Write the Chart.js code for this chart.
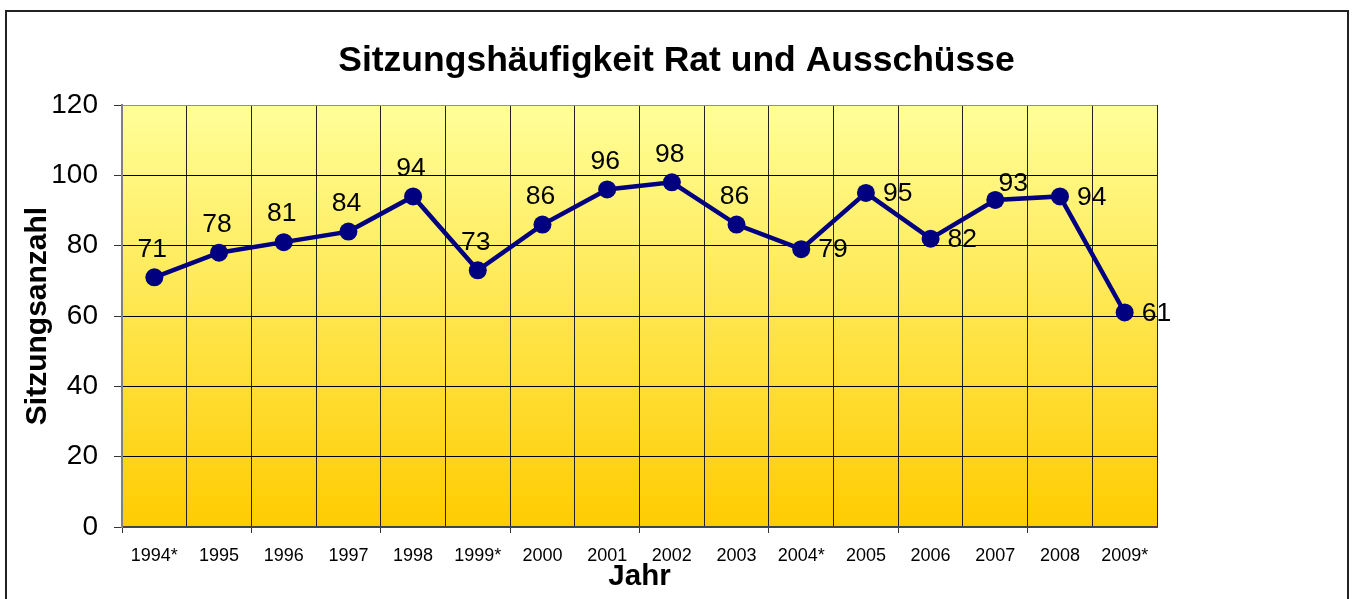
<!DOCTYPE html>
<html>
<head>
<meta charset="utf-8">
<script src="https://cdn.jsdelivr.net/npm/chart.js@4"></script>
<style>
  html, body { margin: 0; padding: 0; background: #fff; }
  #wrap { width: 1353px; height: 599px; }
</style>
</head>
<body>
<div id="wrap"><canvas id="c" width="1353" height="599"></canvas></div>
<script>
const categories = ['1994*','1995','1996','1997','1998','1999*','2000','2001','2002','2003','2004*','2005','2006','2007','2008','2009*'];
const sitzungen = [71,78,81,84,94,73,86,96,98,86,79,95,82,93,94,61];
const labelPlacement = ['top','top','top','top','top','top','top','top','top','top','right','right','right','topright','right','right'];
const yTicks = { min: 0, max: 120, step: 20 };
const chartTitle = 'Sitzungshäufigkeit Rat und Ausschüsse';

const FONT = "'Liberation Sans', Arial, Helvetica, sans-serif";
const NAVY = '#000080';

const frameAndBackground = {
  id: 'frameAndBackground',
  beforeDraw(chart) {
    const ctx = chart.ctx;
    const a = chart.chartArea;
    ctx.save();
    ctx.fillStyle = '#ffffff';
    ctx.fillRect(0, 0, chart.width, chart.height);
    ctx.strokeStyle = '#222';
    ctx.lineWidth = 2;
    ctx.strokeRect(6, 11, 1342, 620);
    const g = ctx.createLinearGradient(0, a.top, 0, a.bottom);
    g.addColorStop(0, '#FFFF99');
    g.addColorStop(1, '#FFCC00');
    ctx.fillStyle = g;
    ctx.fillRect(a.left, a.top, a.right - a.left, a.bottom - a.top);
    ctx.restore();
  },
  afterDraw(chart) {
    const ctx = chart.ctx;
    ctx.save();
    ctx.font = 'bold 35.5px ' + FONT;
    ctx.fillStyle = '#000';
    ctx.textAlign = 'center';
    ctx.textBaseline = 'middle';
    ctx.fillText(chartTitle, chart.width / 2, 61);
    ctx.restore();
  }
};

const valueLabels = {
  id: 'valueLabels',
  afterDatasetsDraw(chart) {
    const ctx = chart.ctx;
    const meta = chart.getDatasetMeta(0);
    ctx.save();
    ctx.font = '26.5px ' + FONT;
    ctx.fillStyle = '#000';
    meta.data.forEach((pt, i) => {
      const v = chart.data.datasets[0].data[i];
      const pos = labelPlacement[i];
      if (pos === 'right') {
        ctx.textAlign = 'left'; ctx.textBaseline = 'middle';
        ctx.fillText(String(v), pt.x + 17, pt.y + 1);
      } else if (pos === 'topright') {
        ctx.textAlign = 'center'; ctx.textBaseline = 'middle';
        ctx.fillText(String(v), pt.x + 18, pt.y - 16);
      } else {
        ctx.textAlign = 'center'; ctx.textBaseline = 'middle';
        ctx.fillText(String(v), pt.x - 2, pt.y - 28);
      }
    });
    ctx.restore();
  }
};

new Chart(document.getElementById('c'), {
  type: 'line',
  data: {
    labels: categories,
    datasets: [{
      data: sitzungen,
      borderColor: NAVY,
      backgroundColor: NAVY,
      borderWidth: 4.5,
      pointRadius: 9,
      pointHoverRadius: 9,
      pointBackgroundColor: NAVY,
      pointBorderColor: NAVY,
      pointBorderWidth: 0,
      tension: 0,
      fill: false
    }]
  },
  options: {
    responsive: false,
    animation: false,
    events: [],
    layout: { padding: { left: 0, right: 196, top: 105, bottom: 0 } },
    plugins: {
      legend: { display: false },
      tooltip: { enabled: false },
      title: { display: false }
    },
    scales: {
      x: {
        type: 'category',
        offset: true,
        grid: {
          offset: true,
          drawOnChartArea: true,
          color: (c) => (c.index === categories.length ? '#a0a0a0' : '#222'),
          lineWidth: 1,
          tickLength: 6,
          tickColor: (c) => (c.index % 2 === 0 ? '#333' : 'rgba(0,0,0,0)')
        },
        border: { display: true, color: '#444', width: 2 },
        ticks: {
          color: '#000',
          font: { family: FONT, size: 18 },
          padding: 12,
          maxRotation: 0,
          autoSkip: false
        },
        title: {
          display: true,
          text: 'Jahr',
          color: '#000',
          font: { family: FONT, size: 29.5, weight: 'bold', lineHeight: 1.2 },
          padding: { top: 0, bottom: 4 }
        },
        afterFit(scale) { scale.height = 72; }
      },
      y: {
        min: yTicks.min,
        max: yTicks.max,
        grid: {
          color: (c) => (c.tick && c.tick.value === yTicks.max ? '#909090' : '#000'),
          lineWidth: 1,
          tickLength: 8,
          tickColor: '#333'
        },
        border: { display: true, color: '#808080', width: 2 },
        ticks: {
          stepSize: yTicks.step,
          color: '#000',
          font: { family: FONT, size: 28 },
          padding: 16
        },
        title: {
          display: true,
          text: 'Sitzungsanzahl',
          color: '#000',
          font: { family: FONT, size: 30, weight: 'bold', lineHeight: 1.2 },
          padding: { top: 20, bottom: 0 }
        },
        afterFit(scale) { scale.width = 122; }
      }
    }
  },
  plugins: [frameAndBackground, valueLabels]
});
</script>
</body>
</html>
